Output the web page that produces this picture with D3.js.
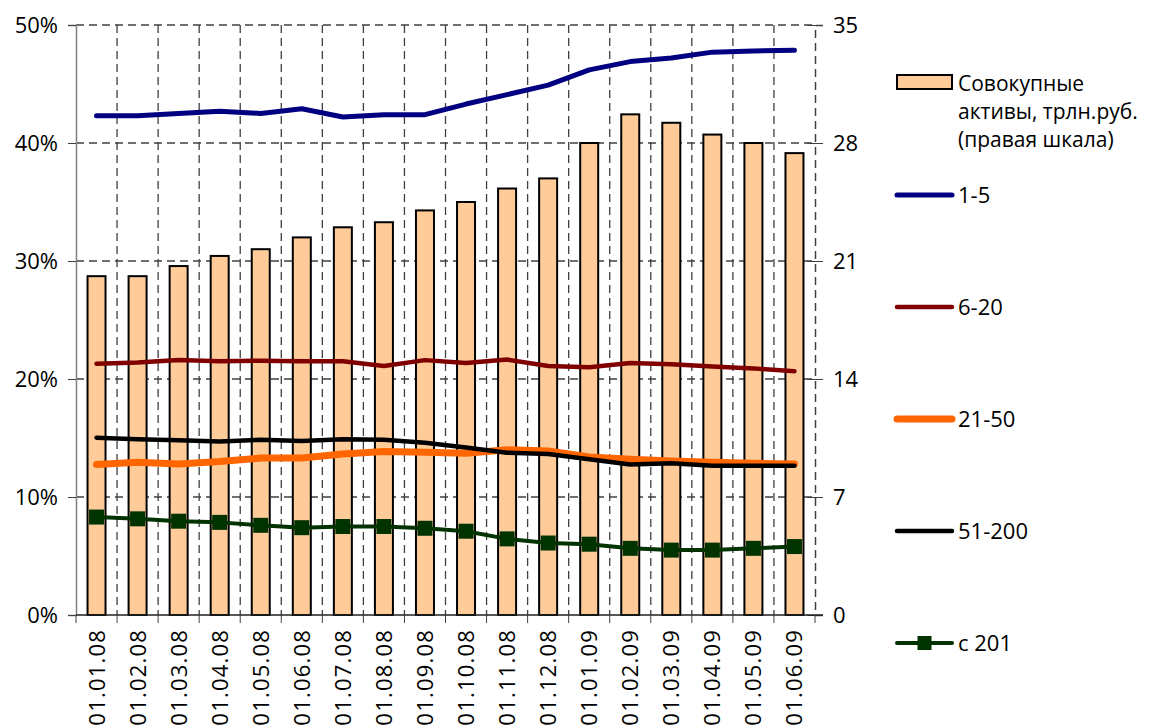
<!DOCTYPE html>
<html><head><meta charset="utf-8">
<script src="https://cdn.jsdelivr.net/npm/d3@7"></script>
<style>body{margin:0;background:#fff}svg{display:block;font-family:"Open Sans",sans-serif}</style>
</head><body><svg id="c" width="1150" height="726"></svg>
<script>
const categories = ["01.01.08","01.02.08","01.03.08","01.04.08","01.05.08","01.06.08","01.07.08","01.08.08","01.09.08","01.10.08","01.11.08","01.12.08","01.01.09","01.02.09","01.03.09","01.04.09","01.05.09","01.06.09"];
const assets = [20.1,20.1,20.7,21.3,21.7,22.4,23.0,23.3,24.0,24.5,25.3,25.9,28.0,29.7,29.2,28.5,28.0,27.4];
const s1_5 = [42.3,42.3,42.5,42.7,42.5,42.9,42.2,42.4,42.4,43.3,44.1,44.9,46.2,46.9,47.2,47.7,47.8,47.85];
const s6_20 = [21.3,21.4,21.6,21.5,21.55,21.5,21.5,21.1,21.6,21.35,21.65,21.1,21.0,21.35,21.25,21.05,20.9,20.65];
const s21_50 = [12.75,12.95,12.8,13.0,13.3,13.3,13.65,13.85,13.8,13.7,14.0,13.9,13.4,13.2,13.05,12.95,12.85,12.8];
const s51_200 = [15.03,14.9,14.8,14.7,14.85,14.75,14.9,14.85,14.6,14.2,13.75,13.65,13.2,12.75,12.85,12.65,12.65,12.65];
const s201 = [8.3,8.15,7.95,7.85,7.6,7.4,7.5,7.5,7.35,7.1,6.45,6.1,6.0,5.65,5.5,5.5,5.65,5.8];
const leftTicks = [0,10,20,30,40,50];
const rightTicks = [0,7,14,21,28,35];
const legendAssets = ["Совокупные","активы, трлн.руб.","(правая шкала)"];

const series = [
  {name:"1-5", values:s1_5, color:"#000080", width:5},
  {name:"6-20", values:s6_20, color:"#800000", width:4.5},
  {name:"21-50", values:s21_50, color:"#FF6600", width:7},
  {name:"51-200", values:s51_200, color:"#000000", width:4.5},
  {name:"с 201", values:s201, color:"#003300", width:4, marker:true}
];

const FONT = "Open Sans";
const svg = d3.select("#c");
const L=76,R=815,T=25,B=615;
const x = d3.scaleBand().domain(categories).range([L,R]).padding(0);
const yL = d3.scaleLinear().domain([0,50]).range([B,T]);
const yR = d3.scaleLinear().domain([0,35]).range([B,T]);
const dash = "8,5";

svg.append("g").selectAll("line").data(leftTicks.filter(d=>d>0)).join("line")
  .attr("x1",L).attr("x2",R).attr("y1",d=>yL(d)).attr("y2",d=>yL(d))
  .attr("stroke","#404040").attr("stroke-dasharray",dash).attr("stroke-width",1.3);
svg.append("g").selectAll("line").data(categories.slice(1)).join("line")
  .attr("x1",d=>x(d)).attr("x2",d=>x(d)).attr("y1",T).attr("y2",B)
  .attr("stroke","#404040").attr("stroke-dasharray",dash).attr("stroke-width",1.3);

const bw = 18;
svg.append("g").selectAll("rect").data(categories).join("rect")
  .attr("x",(d)=>x(d)+x.bandwidth()/2-bw/2).attr("width",bw)
  .attr("y",(d,i)=>yR(assets[i])).attr("height",(d,i)=>B-yR(assets[i]))
  .attr("fill","#FFCC99").attr("stroke","#000").attr("stroke-width",2);

const gl = svg.append("g").attr("transform",`translate(${L},0)`)
  .call(d3.axisLeft(yL).tickValues(leftTicks).tickFormat(d=>d+"%").tickSize(8).tickPadding(10));
gl.select(".domain").attr("stroke","#808080").attr("stroke-width",1.5);
gl.selectAll(".tick line").attr("stroke","#404040");
gl.selectAll("text").attr("font-size",22).attr("fill","#000").attr("font-family",FONT);

const gr = svg.append("g").attr("transform",`translate(${R},0)`)
  .call(d3.axisRight(yR).tickValues(rightTicks).tickSize(8).tickPadding(10));
gr.select(".domain").attr("stroke","#404040").attr("stroke-dasharray",dash).attr("stroke-width",1.5);
gr.selectAll(".tick line").attr("stroke","#404040").attr("x1",-8);
gr.selectAll("text").attr("font-size",22).attr("fill","#000").attr("font-family",FONT);

svg.append("line").attr("x1",L).attr("x2",R+8).attr("y1",B).attr("y2",B).attr("stroke","#202020").attr("stroke-width",1.5);
const bounds = categories.map(c=>x(c)).concat([R]);
svg.append("g").selectAll("line").data(bounds).join("line")
  .attr("x1",d=>d).attr("x2",d=>d).attr("y1",B).attr("y2",B+8).attr("stroke","#404040");
svg.append("g").selectAll("text").data(categories).join("text")
  .attr("transform",d=>`translate(${x(d)+x.bandwidth()/2+8},${B+14}) rotate(-90)`)
  .attr("text-anchor","end").attr("font-size",22).attr("letter-spacing",1.2).attr("font-family",FONT).text(d=>d);

const line = d3.line().x((d,i)=>x(categories[i])+x.bandwidth()/2).y(d=>yL(d));
series.forEach(s=>{
  svg.append("path").datum(s.values).attr("d",line).attr("fill","none")
    .attr("stroke",s.color).attr("stroke-width",s.width).attr("stroke-linejoin","round").attr("stroke-linecap","round");
  if(s.marker){
    const m=15;
    svg.append("g").selectAll("rect").data(s.values).join("rect")
      .attr("x",(d,i)=>x(categories[i])+x.bandwidth()/2-m/2).attr("y",d=>yL(d)-m/2)
      .attr("width",m).attr("height",m).attr("fill",s.color);
  }
});

const lx=897, lx2=952, tx=958;
const lg = svg.append("g").attr("font-family",FONT);
lg.append("rect").attr("x",lx).attr("y",75).attr("width",lx2-lx).attr("height",14)
  .attr("fill","#FFCC99").attr("stroke","#000").attr("stroke-width",2);
legendAssets.forEach((t,i)=>{
  lg.append("text").attr("x",tx).attr("y",91+i*28).attr("font-size",21).text(t);
});
const ly = [195,307,419,531,643];
series.forEach((s,i)=>{
  lg.append("line").attr("x1",lx).attr("x2",lx2).attr("y1",ly[i]).attr("y2",ly[i])
    .attr("stroke",s.color).attr("stroke-width",s.width).attr("stroke-linecap","round");
  if(s.marker) lg.append("rect").attr("x",(lx+lx2)/2-7).attr("y",ly[i]-7).attr("width",14).attr("height",14).attr("fill",s.color);
  lg.append("text").attr("x",tx).attr("y",ly[i]+8).attr("font-size",22).text(s.name);
});
</script></body></html>
